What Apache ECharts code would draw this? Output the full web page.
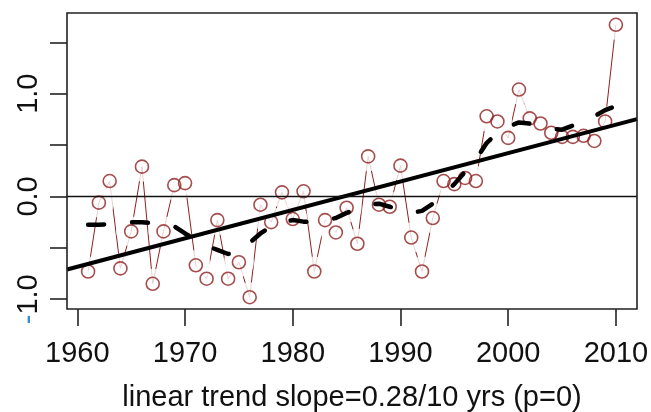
<!DOCTYPE html>
<html>
<head>
<meta charset="utf-8">
<script src="https://cdn.jsdelivr.net/npm/echarts@6/dist/echarts.min.js"></script>
<style>
  html, body { margin: 0; padding: 0; background: #fff; }
  #main { width: 651px; height: 412px; }
</style>
</head>
<body>
<div id="main"></div>
<script>
// yearly anomalies
const years = [];
for (let y = 1961; y <= 2010; y++) years.push(y);
const anomaly = [
  -0.73, -0.06, 0.15, -0.70, -0.34, 0.29, -0.85, -0.34, 0.11, 0.13,
  -0.67, -0.80, -0.23, -0.80, -0.64, -0.98, -0.08, -0.25, 0.04, -0.22,
  0.05, -0.73, -0.23, -0.35, -0.11, -0.46, 0.39, -0.08, -0.10, 0.30,
  -0.40, -0.73, -0.21, 0.15, 0.12, 0.18, 0.15, 0.78, 0.73, 0.57,
  1.04, 0.76, 0.71, 0.62, 0.58, 0.58, 0.59, 0.54, 0.73, 1.67
];
// smoothed curve (dashed), estimated
const smooth = [
  -0.275, -0.275, -0.27, -0.26, -0.25, -0.25, -0.26, -0.27, -0.29, -0.36,
  -0.42, -0.48, -0.52, -0.56, -0.54, -0.45, -0.36, -0.29, -0.25, -0.23,
  -0.245, -0.25, -0.23, -0.21, -0.16, -0.12, -0.08, -0.07, -0.10, -0.13,
  -0.16, -0.14, -0.07, 0.02, 0.12, 0.24, 0.36, 0.52, 0.62, 0.68,
  0.72, 0.71, 0.69, 0.66, 0.65, 0.69, 0.72, 0.78, 0.84, 0.88
];
// linear trend, ends at the plot edges
const trendYears = [1959.04, 2011.96];
const trendVals = [-0.711, 0.753];

const xTicks = [1960, 1970, 1980, 1990, 2000, 2010];
const yTicks = [-1, -0.5, 0, 0.5, 1, 1.5];
const yLabels = [-1, 0, 1];

const red = '#8e1f1f';
const pts = years.map((y, i) => [y, anomaly[i]]);

const chart = echarts.init(document.getElementById('main'));
const option = {
  animation: false,
  textStyle: { fontFamily: 'Liberation Sans, Arial, sans-serif' },
  grid: {
    left: 67, right: 14, top: 13, bottom: 103, z: 10,
    outerBoundsMode: 'none', containLabel: false,
    show: true, borderColor: '#222', borderWidth: 1.6, backgroundColor: 'transparent'
  },
  xAxis: {
    type: 'value', min: 1959.04, max: 2011.96,
    name: 'linear trend slope=0.28/10 yrs (p=0)',
    nameLocation: 'middle', nameGap: 74,
    nameTextStyle: { fontSize: 29, color: '#111' },
    axisLine: { show: false, onZero: false },
    splitLine: { show: false },
    axisTick: { show: true, inside: false, length: 17, customValues: xTicks,
      lineStyle: { color: '#222', width: 1.6 } },
    axisLabel: { customValues: xTicks, fontSize: 29, color: '#111', margin: 30,
      formatter: v => String(v) }
  },
  yAxis: {
    type: 'value', min: -1.095, max: 1.785,
    axisLine: { show: false, onZero: false },
    splitLine: { show: false },
    axisTick: { show: true, inside: false, length: 17, customValues: yTicks,
      lineStyle: { color: '#222', width: 1.6 } },
    axisLabel: {
      customValues: yLabels, fontSize: 29, color: '#111', margin: 24, rotate: 90,
      formatter: v => v < 0 ? '{m|-}' + Math.abs(v).toFixed(1) : v.toFixed(1),
      rich: { m: { color: '#3a8ad6', fontSize: 29 } }
    }
  },
  series: [
    {
      type: 'line', data: pts, showSymbol: false, z: 1, silent: true,
      lineStyle: { color: red, width: 1 }
    },
    {
      // white halo so the thin lines stop short of each point
      type: 'scatter', data: pts, symbolSize: 30, z: 2, silent: true,
      itemStyle: { color: '#fff' }
    },
    {
      type: 'scatter', data: pts, symbol: 'circle', symbolSize: 13, z: 3, silent: true,
      itemStyle: { color: 'rgba(0,0,0,0)', borderColor: red, borderWidth: 1.6 }
    },
    {
      type: 'line', z: 4, silent: true, showSymbol: false,
      data: trendYears.map((y, i) => [y, trendVals[i]]),
      lineStyle: { color: '#000', width: 4 },
      markLine: {
        silent: true, symbol: 'none', label: { show: false },
        lineStyle: { color: '#111', width: 1.3, type: 'solid' },
        data: [{ yAxis: 0 }]
      }
    },
    {
      type: 'line', z: 5, silent: true, showSymbol: false,
      data: years.map((y, i) => [y, smooth[i]]),
      lineStyle: { color: '#000', width: 4.5, type: [16, 28], cap: 'round' }
    }
  ]
};
chart.setOption(option);
</script>
</body>
</html>
